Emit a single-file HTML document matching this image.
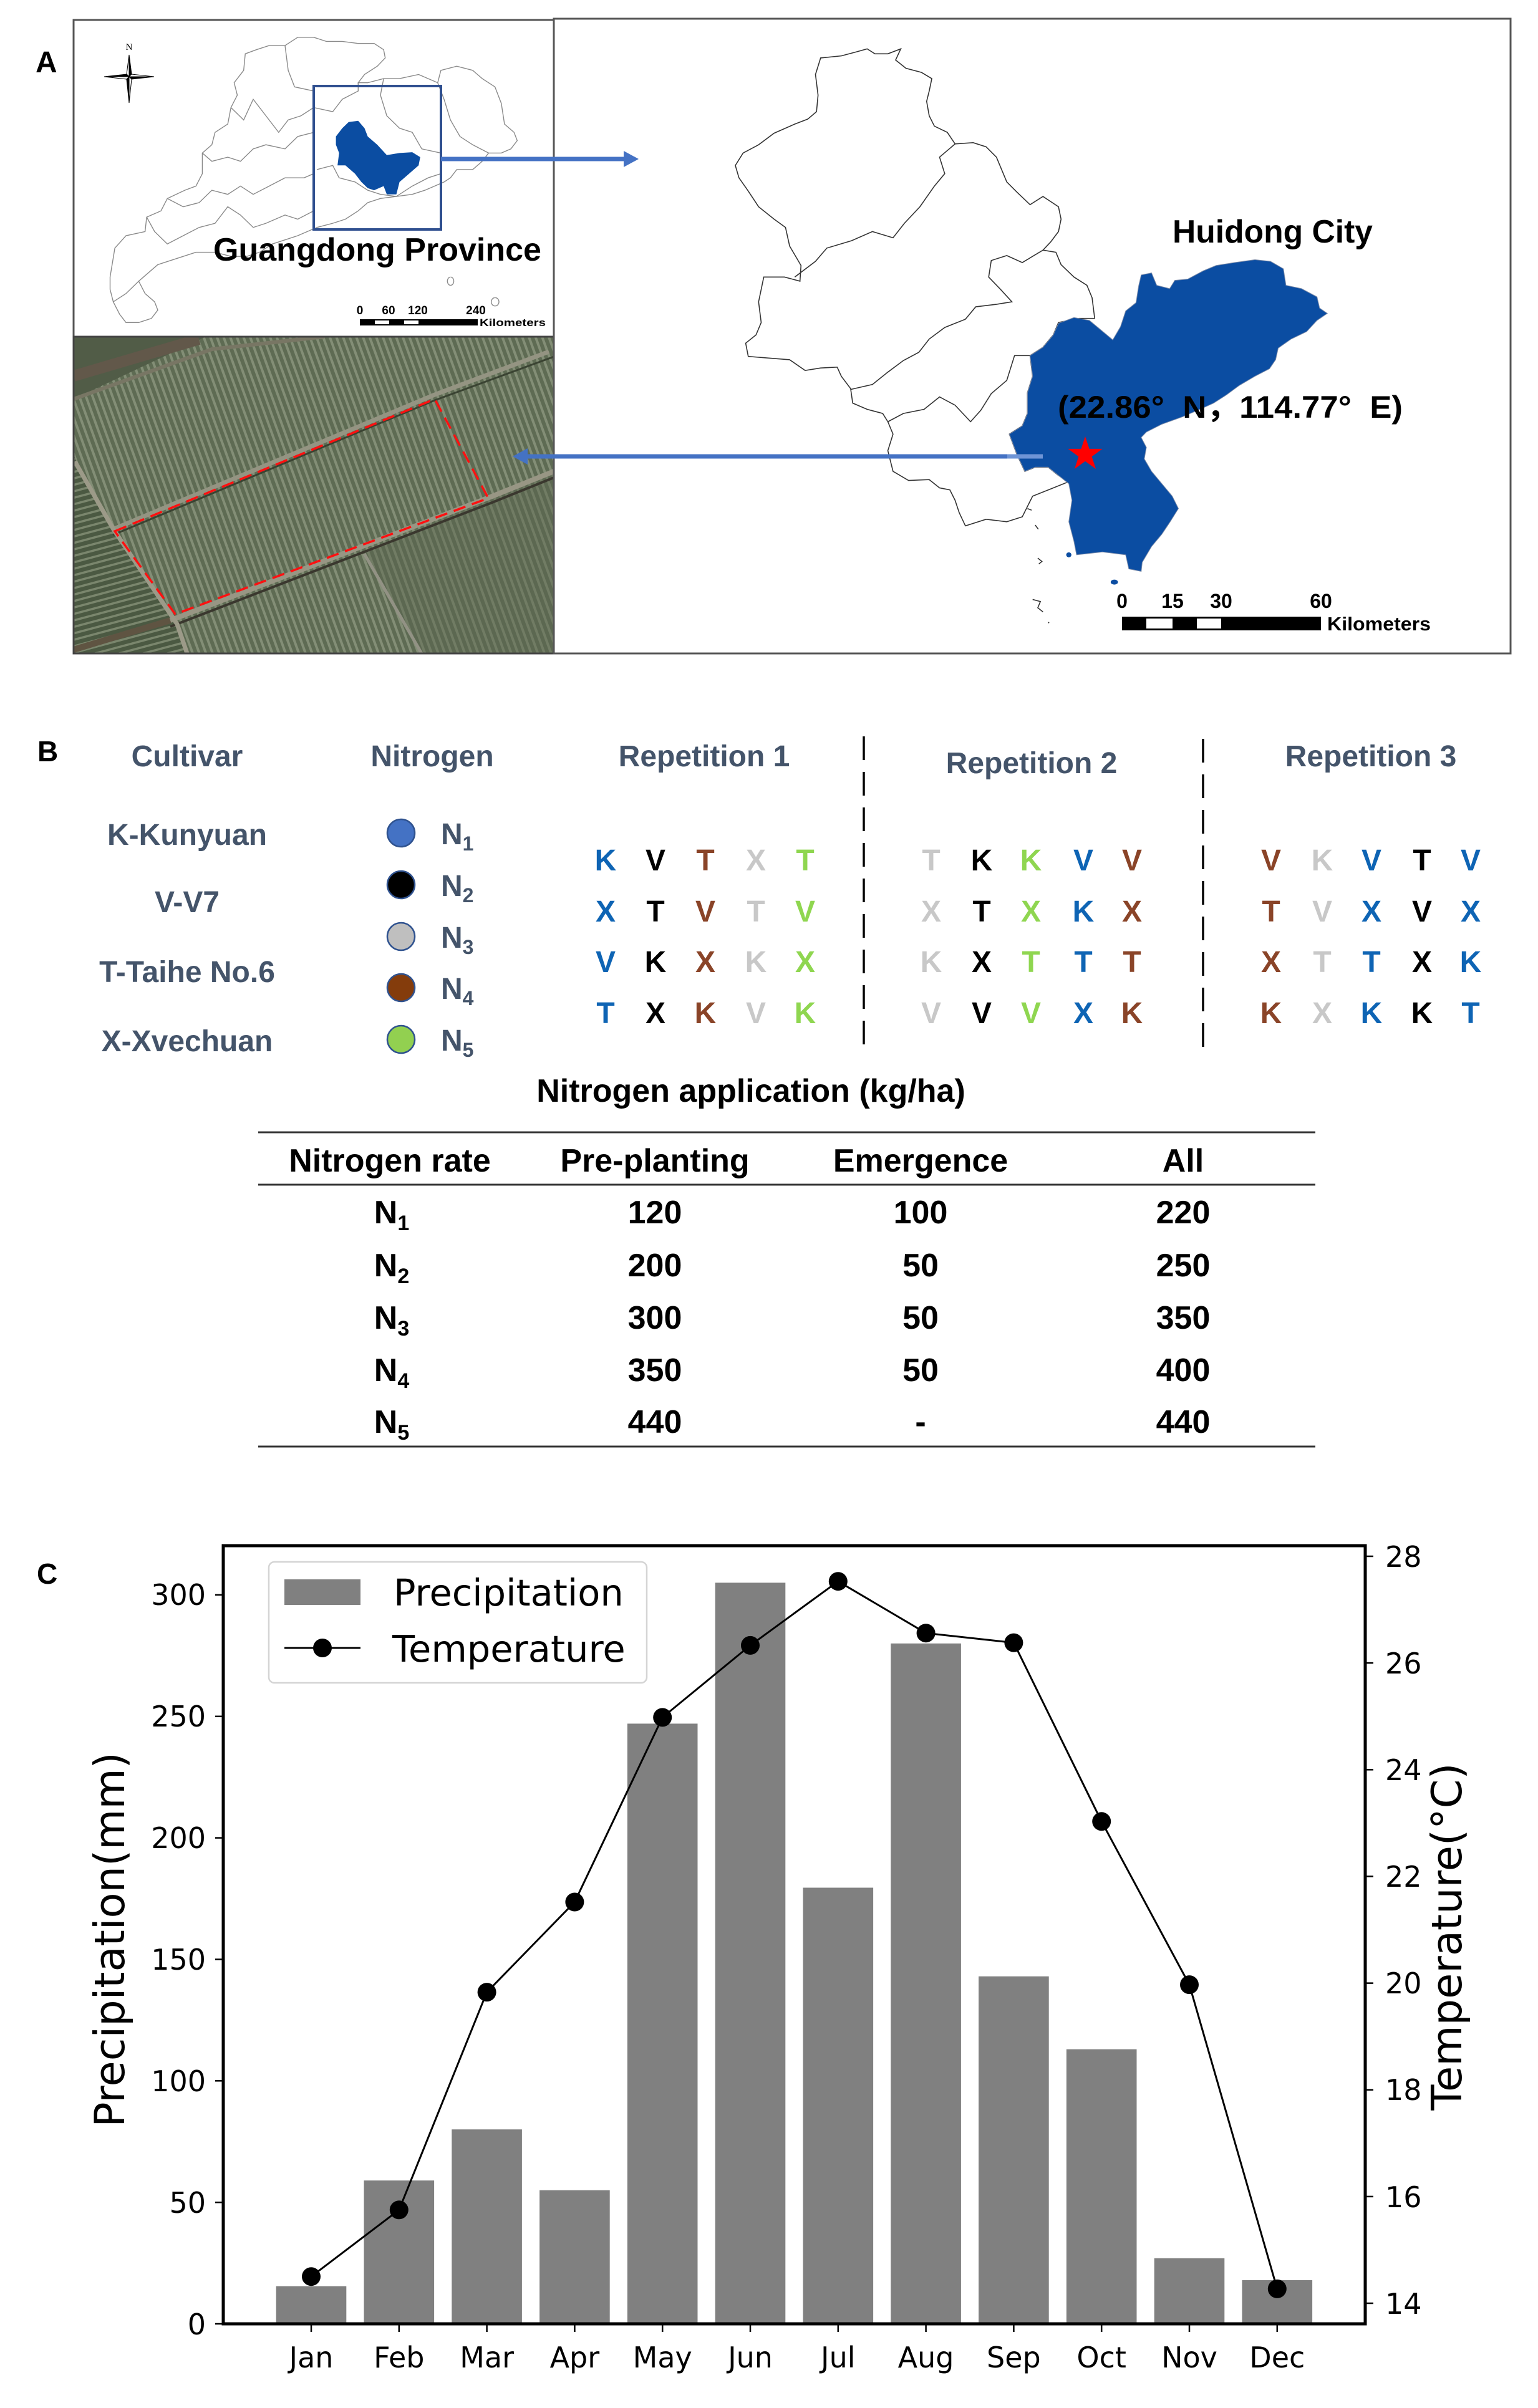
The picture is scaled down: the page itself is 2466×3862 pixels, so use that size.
<!DOCTYPE html>
<html><head><meta charset="utf-8"><style>
html,body{margin:0;padding:0;background:#fff;}
svg{display:block;}
.ab{font-family:"Liberation Sans","Noto Sans CJK SC",sans-serif;font-weight:bold;}
.dj{font-family:"DejaVu Sans","Liberation Sans",sans-serif;}
</style></head><body>
<svg width="2466" height="3862" viewBox="0 0 2466 3862" xmlns="http://www.w3.org/2000/svg">
<defs>
<pattern id="stripes" width="10" height="40" patternUnits="userSpaceOnUse" patternTransform="rotate(-20)">
<rect width="10" height="40" fill="#5e6b53"/>
<rect x="0" width="4" height="40" fill="#838e76"/>
</pattern>
<pattern id="stripes2" width="10" height="40" patternUnits="userSpaceOnUse" patternTransform="rotate(75)">
<rect width="10" height="40" fill="#4b5942"/>
<rect x="0" width="3.5" height="40" fill="#7a866d"/>
</pattern>
<clipPath id="satclip"><rect x="118" y="540" width="770" height="508"/></clipPath>
</defs>

<!-- ================= PANEL A ================= -->
<text class="ab" x="57" y="116" font-size="48">A</text>

<!-- Left top map box -->
<rect x="118" y="32" width="770" height="508" fill="#fff" stroke="#555" stroke-width="3"/>
<g transform="translate(100,20) scale(0.51,0.663)" fill="none" stroke="#8a8a8a" stroke-width="1.4">
<path vector-effect="non-scaling-stroke" d="M150,640 L165,570 L200,540 L260,530 L265,495 L310,480 L330,450 L385,430 L420,420 L440,390 L440,340 L470,320 L480,290 L520,270 L530,230 L550,200 L540,170 L570,140 L575,100 L610,90 L650,80 L700,80 L740,60 L790,60 L830,70 L880,70 L930,75 L980,75 L1010,90 L1015,110 L990,130 L950,150 L930,170 L960,170 L1010,160 L1060,160 L1120,150 L1150,160 L1180,170 L1190,140 L1240,130 L1290,140 L1320,160 L1360,180 L1380,220 L1390,270 L1420,290 L1430,310 L1410,330 L1380,340 L1340,340 L1320,360 L1290,380 L1240,380 L1220,400 L1200,410 L1170,420 L1140,430 L1100,440 L1050,445 L1000,450 L960,460 L930,480 L890,500 L850,510 L800,520 L770,530 L740,540 L700,550 L660,560 L620,580 L580,590 L530,590 L480,580 L420,580 L380,590 L340,600 L300,610 L270,630 L240,650 L260,680 L290,700 L300,720 L280,740 L240,750 L200,750 L180,730 L160,700 L150,670 Z"/>
<path vector-effect="non-scaling-stroke" d="M440,340 L470,360 L520,350 L560,360 L600,330 L640,320 L700,330 L740,300 L790,290"/>
<path vector-effect="non-scaling-stroke" d="M530,230 L570,260 L600,210 L640,250 L680,290 L710,260 L750,250 L790,230 L850,240 L880,210 L930,190 L930,170"/>
<path vector-effect="non-scaling-stroke" d="M330,450 L380,470 L430,460 L470,430 L520,440 L560,420 L600,440 L650,420 L700,400 L760,400 L790,390"/>
<path vector-effect="non-scaling-stroke" d="M265,495 L290,530 L330,560 L380,540 L430,520 L480,510 L520,470 L560,490 L600,520 L640,510 L700,490 L740,500 L790,480"/>
<path vector-effect="non-scaling-stroke" d="M700,80 L710,140 L730,180 L790,190"/>
<path vector-effect="non-scaling-stroke" d="M1010,160 L1000,200 L1020,250 L1060,280 L1100,290 L1130,330 L1190,340"/>
<path vector-effect="non-scaling-stroke" d="M1180,170 L1200,210 L1220,260 L1250,300 L1290,320 L1340,340"/>
<path vector-effect="non-scaling-stroke" d="M800,380 L850,370 L870,400 L920,410 L960,430 L1000,440 L1050,445 L1100,420 L1150,400 L1190,390"/>
<path vector-effect="non-scaling-stroke" d="M160,700 L200,680 L240,650"/>
<path vector-effect="non-scaling-stroke" d="M1220,640 a10,10 0 1,0 1,0 M1360,690 a12,10 0 1,0 1,0"/>
</g>
<g transform="translate(100,20) scale(0.51,0.663)">
<path fill="#0b4da2" d="M860,300 L880,280 L900,265 L930,262 L950,280 L960,300 L990,320 L1020,345 L1060,340 L1100,338 L1125,350 L1120,370 L1090,390 L1060,410 L1050,440 L1020,440 L1010,420 L980,430 L960,425 L940,410 L920,390 L890,370 L865,370 L870,340 L860,320 Z"/>
</g>
<rect x="503" y="138" width="204" height="230" fill="none" stroke="#2f4f8f" stroke-width="4"/>
<!-- compass -->
<g stroke="#000" stroke-width="1">
<polygon points="207,123 207,88 211,119" fill="#000"/>
<polygon points="207,123 207,88 203,119" fill="#fff"/>
<polygon points="207,123 247,123 211,119" fill="#fff"/>
<polygon points="207,123 247,123 211,127" fill="#000"/>
<polygon points="207,123 207,165 211,127" fill="#fff"/>
<polygon points="207,123 207,165 203,127" fill="#000"/>
<polygon points="207,123 167,123 203,127" fill="#fff"/>
<polygon points="207,123 167,123 203,119" fill="#000"/>
</g>
<text x="207" y="80" font-size="15" text-anchor="middle" font-family="Liberation Serif,serif">N</text>
<text class="ab" x="342" y="418" font-size="52" textLength="526" lengthAdjust="spacingAndGlyphs">Guangdong Province</text>
<!-- small scale bar -->
<g class="ab" font-size="19" text-anchor="middle">
<text x="577" y="504">0</text><text x="623" y="504">60</text><text x="670" y="504">120</text><text x="763" y="504">240</text>
</g>
<rect x="577" y="512" width="189" height="10" fill="#000"/>
<rect x="601" y="514" width="23" height="6" fill="#fff"/>
<rect x="648" y="514" width="23" height="6" fill="#fff"/>
<text class="ab" x="769" y="523" font-size="17" textLength="106" lengthAdjust="spacingAndGlyphs">Kilometers</text>

<!-- Satellite -->
<g clip-path="url(#satclip)">
<rect x="118" y="540" width="770" height="508" fill="url(#stripes)"/>
<polygon points="118,730 181,849 284,1001 300,1048 118,1048" fill="url(#stripes2)"/>
<polygon points="584,888 676,1048 888,1048 888,756 788,796" fill="#5a6750" opacity="0.45"/>
<polygon points="118,540 330,540 118,640" fill="#515c47"/>
<polyline points="118,603 319,544" stroke="#62584a" stroke-width="18" fill="none"/>
<polyline points="118,640 340,560 520,540" stroke="#787664" stroke-width="6" fill="none"/>
<polyline points="181,849 697,633 880,564" stroke="#949482" stroke-width="7" fill="none"/>
<polyline points="181,858 697,642 888,572" stroke="#3a4332" stroke-width="3" fill="none"/>
<polyline points="273,995 789,796 888,756" stroke="#989684" stroke-width="8" fill="none"/>
<polyline points="273,1005 789,806 888,766" stroke="#3a372e" stroke-width="4" fill="none"/>
<polyline points="120,740 182,849 284,1001 300,1048" stroke="#9c9a88" stroke-width="7" fill="none"/>
<polyline points="584,888 676,1048" stroke="#929284" stroke-width="5" fill="none"/>
<polyline points="118,1042 273,995" stroke="#5f5442" stroke-width="10" fill="none"/>
</g>
<rect x="118" y="540" width="770" height="508" fill="none" stroke="#444" stroke-width="3"/>
<polygon points="184,852 697,640 783,799 281,985" fill="none" stroke="#ff1010" stroke-width="3.5" stroke-dasharray="20,11"/>

<!-- Right map box -->
<rect x="888" y="30" width="1534" height="1018" fill="none" stroke="#555" stroke-width="3"/>
<g transform="translate(1150,20) scale(0.829,0.663)">
<path fill="#fff" stroke="#333" stroke-width="1.6" vector-effect="non-scaling-stroke" d="M200,110 L240,105 L270,95 L290,88 L305,100 L330,100 L355,88 L345,115 L365,135 L395,145 L415,160 L410,190 L405,215 L410,250 L420,275 L445,290 L460,318 L495,315 L520,325 L540,350 L550,380 L560,410 L580,435 L605,465 L630,445 L660,470 L665,500 L660,530 L645,555 L630,575 L655,580 L665,610 L690,640 L715,660 L725,690 L730,740 L700,740 L660,750 L650,780 L630,810 L605,830 L610,880 L600,920 L600,970 L590,1000 L565,1020 L580,1070 L595,1110 L615,1100 L640,1100 L660,1120 L680,1135 L650,1150 L610,1170 L600,1195 L590,1220 L560,1232 L520,1226 L480,1242 L468,1210 L460,1180 L450,1155 L430,1150 L410,1130 L370,1132 L340,1110 L330,1060 L340,1020 L330,990 L320,970 L290,960 L262,945 L258,910 L240,880 L232,858 L200,860 L170,866 L140,840 L100,836 L60,832 L55,800 L75,780 L85,750 L80,700 L90,640 L130,640 L160,650 L162,612 L140,565 L132,520 L110,500 L80,470 L60,432 L42,400 L35,370 L50,340 L80,320 L110,292 L150,270 L175,258 L192,240 L195,200 L190,150 Z"/>
<g fill="none" stroke="#333" stroke-width="1.6">
<path vector-effect="non-scaling-stroke" d="M150,640 L190,602 L212,570 L260,552 L300,530 L340,545 L362,510 L392,470 L420,420 L440,390 L430,350 L460,318"/>
<path vector-effect="non-scaling-stroke" d="M258,912 L300,900 L330,870 L360,842 L390,822 L410,790 L440,762 L480,742 L500,712 L540,706 L570,700 L548,670 L525,640 L530,600 L560,588 L590,605 L630,575"/>
<path vector-effect="non-scaling-stroke" d="M330,990 L360,970 L400,960 L430,930 L460,950 L490,990 L510,962 L530,922 L560,890 L575,830 L605,830"/>
<path vector-effect="non-scaling-stroke" d="M600,1200 l8,4 M615,1240 l6,10 M620,1320 l8,8 l-6,6 M610,1420 l15,5 l-5,15 l10,10 M640,1475 l2,2"/>
</g>
<path fill="#0b4da2" stroke="#7a8aa8" stroke-width="1" vector-effect="non-scaling-stroke" d="M820,635 L840,630 L850,660 L875,668 L885,648 L910,645 L940,625 L965,612 L1000,605 L1040,598 L1070,602 L1095,620 L1100,660 L1130,668 L1160,688 L1165,715 L1180,728 L1160,745 L1140,772 L1110,790 L1085,812 L1080,840 L1068,862 L1040,880 L1010,902 L985,925 L960,945 L930,962 L900,978 L860,996 L830,1015 L820,1028 L830,1052 L826,1080 L840,1110 L860,1140 L880,1170 L892,1200 L876,1232 L860,1262 L840,1292 L822,1330 L820,1352 L796,1346 L790,1312 L745,1305 L695,1312 L690,1280 L680,1232 L686,1180 L680,1140 L660,1120 L640,1100 L615,1100 L595,1110 L580,1070 L565,1020 L590,1000 L600,970 L600,920 L610,880 L605,830 L630,810 L650,780 L660,752 L690,738 L720,745 L742,768 L765,792 L780,760 L790,722 L810,702 L815,662 Z"/>
<ellipse cx="680" cy="1312" rx="5" ry="6" fill="#0b4da2"/>
<ellipse cx="768" cy="1378" rx="7" ry="6" fill="#0b4da2"/>
</g>
<text class="ab" x="1880" y="389" font-size="52" textLength="321" lengthAdjust="spacingAndGlyphs">Huidong City</text>
<text class="ab" x="1696" y="670" font-size="50" textLength="553" lengthAdjust="spacingAndGlyphs" style="white-space:pre">(22.86°  N，114.77°  E)</text>
<polygon fill="#ff0000" points="1740,700 1746.6,719.9 1767.6,719.9 1750.6,732.2 1757.1,752.1 1740,739.8 1722.9,752.1 1729.4,732.2 1712.4,719.9 1733.4,719.9"/>
<!-- big scale bar -->
<g class="ab" font-size="32" text-anchor="middle">
<text x="1799" y="975">0</text><text x="1880" y="975">15</text><text x="1958" y="975">30</text><text x="2118" y="975">60</text>
</g>
<rect x="1799" y="989" width="319" height="22" fill="#000"/>
<rect x="1838" y="992" width="42" height="16" fill="#fff"/>
<rect x="1919" y="992" width="39" height="16" fill="#fff"/>
<text class="ab" x="2128" y="1011" font-size="31" textLength="166" lengthAdjust="spacingAndGlyphs">Kilometers</text>

<!-- arrows -->
<line x1="707" y1="255" x2="1002" y2="255" stroke="#4472c4" stroke-width="7"/>
<polygon points="1024,255 1000,242 1000,268" fill="#4472c4"/>
<line x1="1672" y1="732" x2="842" y2="732" stroke="#4472c4" stroke-width="7"/>
<line x1="1615" y1="732" x2="1672" y2="732" stroke="#6f95d6" stroke-width="7"/>
<polygon points="822,732 846,719 846,745" fill="#4472c4"/>

<!-- ================= PANEL B ================= -->
<text class="ab" x="60" y="1221" font-size="46">B</text>
<g class="ab" font-size="48" fill="#44546a" text-anchor="middle">
<text x="300" y="1229">Cultivar</text>
<text x="693" y="1229">Nitrogen</text>
<text x="1129" y="1229">Repetition 1</text>
<text x="1654" y="1240">Repetition 2</text>
<text x="2198" y="1229">Repetition 3</text>
<text x="300" y="1355">K-Kunyuan</text>
<text x="300" y="1463">V-V7</text>
<text x="300" y="1575">T-Taihe No.6</text>
<text x="300" y="1686">X-Xvechuan</text>
</g>
<g stroke="#2f528f" stroke-width="2.5">
<circle cx="643" cy="1336" r="22" fill="#4472c4"/>
<circle cx="643" cy="1419" r="22" fill="#000"/>
<circle cx="643" cy="1502" r="22" fill="#bfbfbf"/>
<circle cx="643" cy="1584" r="22" fill="#843c0c"/>
<circle cx="643" cy="1667" r="22" fill="#92d050"/>
</g>
<g class="ab" font-size="48" fill="#44546a">
<text x="707" y="1354">N<tspan font-size="32" dy="10">1</tspan></text>
<text x="707" y="1437">N<tspan font-size="32" dy="10">2</tspan></text>
<text x="707" y="1520">N<tspan font-size="32" dy="10">3</tspan></text>
<text x="707" y="1602">N<tspan font-size="32" dy="10">4</tspan></text>
<text x="707" y="1685">N<tspan font-size="32" dy="10">5</tspan></text>
</g>
<!-- dashed separators -->
<line x1="1385" y1="1181" x2="1385" y2="1678" stroke="#000" stroke-width="3.5" stroke-dasharray="38,19"/>
<line x1="1929" y1="1185" x2="1929" y2="1682" stroke="#000" stroke-width="3.5" stroke-dasharray="38,19"/>
<!-- letter grid -->
<g class="ab" font-size="48" text-anchor="middle">
<text x="971" y="1396" fill="#0e64b4">K</text><text x="1051" y="1396" fill="#000">V</text><text x="1131" y="1396" fill="#8a4428">T</text><text x="1212" y="1396" fill="#c8c8c8">X</text><text x="1291" y="1396" fill="#8fd650">T</text>
<text x="971" y="1478" fill="#0e64b4">X</text><text x="1051" y="1478" fill="#000">T</text><text x="1131" y="1478" fill="#8a4428">V</text><text x="1212" y="1478" fill="#c8c8c8">T</text><text x="1291" y="1478" fill="#8fd650">V</text>
<text x="971" y="1559" fill="#0e64b4">V</text><text x="1051" y="1559" fill="#000">K</text><text x="1131" y="1559" fill="#8a4428">X</text><text x="1212" y="1559" fill="#c8c8c8">K</text><text x="1291" y="1559" fill="#8fd650">X</text>
<text x="971" y="1641" fill="#0e64b4">T</text><text x="1051" y="1641" fill="#000">X</text><text x="1131" y="1641" fill="#8a4428">K</text><text x="1212" y="1641" fill="#c8c8c8">V</text><text x="1291" y="1641" fill="#8fd650">K</text>
<text x="1493" y="1396" fill="#c8c8c8">T</text><text x="1574" y="1396" fill="#000">K</text><text x="1653" y="1396" fill="#8fd650">K</text><text x="1737" y="1396" fill="#0e64b4">V</text><text x="1815" y="1396" fill="#8a4428">V</text>
<text x="1493" y="1478" fill="#c8c8c8">X</text><text x="1574" y="1478" fill="#000">T</text><text x="1653" y="1478" fill="#8fd650">X</text><text x="1737" y="1478" fill="#0e64b4">K</text><text x="1815" y="1478" fill="#8a4428">X</text>
<text x="1493" y="1559" fill="#c8c8c8">K</text><text x="1574" y="1559" fill="#000">X</text><text x="1653" y="1559" fill="#8fd650">T</text><text x="1737" y="1559" fill="#0e64b4">T</text><text x="1815" y="1559" fill="#8a4428">T</text>
<text x="1493" y="1641" fill="#c8c8c8">V</text><text x="1574" y="1641" fill="#000">V</text><text x="1653" y="1641" fill="#8fd650">V</text><text x="1737" y="1641" fill="#0e64b4">X</text><text x="1815" y="1641" fill="#8a4428">K</text>
<text x="2038" y="1396" fill="#8a4428">V</text><text x="2120" y="1396" fill="#c8c8c8">K</text><text x="2199" y="1396" fill="#0e64b4">V</text><text x="2280" y="1396" fill="#000">T</text><text x="2358" y="1396" fill="#0e64b4">V</text>
<text x="2038" y="1478" fill="#8a4428">T</text><text x="2120" y="1478" fill="#c8c8c8">V</text><text x="2199" y="1478" fill="#0e64b4">X</text><text x="2280" y="1478" fill="#000">V</text><text x="2358" y="1478" fill="#0e64b4">X</text>
<text x="2038" y="1559" fill="#8a4428">X</text><text x="2120" y="1559" fill="#c8c8c8">T</text><text x="2199" y="1559" fill="#0e64b4">T</text><text x="2280" y="1559" fill="#000">X</text><text x="2358" y="1559" fill="#0e64b4">K</text>
<text x="2038" y="1641" fill="#8a4428">K</text><text x="2120" y="1641" fill="#c8c8c8">X</text><text x="2199" y="1641" fill="#0e64b4">K</text><text x="2280" y="1641" fill="#000">K</text><text x="2358" y="1641" fill="#0e64b4">T</text>
</g>

<!-- Table -->
<text class="ab" x="1204" y="1767" font-size="52" text-anchor="middle">Nitrogen application (kg/ha)</text>
<line x1="414" y1="1816" x2="2109" y2="1816" stroke="#333" stroke-width="3"/>
<line x1="414" y1="1900" x2="2109" y2="1900" stroke="#333" stroke-width="3"/>
<line x1="414" y1="2320" x2="2109" y2="2320" stroke="#333" stroke-width="3"/>
<g class="ab" font-size="52" text-anchor="middle" fill="#000">
<text x="625" y="1879">Nitrogen rate</text><text x="1050" y="1879">Pre-planting</text><text x="1476" y="1879">Emergence</text><text x="1897" y="1879">All</text>
<text x="628" y="1962">N<tspan font-size="34" dy="11">1</tspan></text><text x="1050" y="1962">120</text><text x="1476" y="1962">100</text><text x="1897" y="1962">220</text>
<text x="628" y="2047">N<tspan font-size="34" dy="11">2</tspan></text><text x="1050" y="2047">200</text><text x="1476" y="2047">50</text><text x="1897" y="2047">250</text>
<text x="628" y="2131">N<tspan font-size="34" dy="11">3</tspan></text><text x="1050" y="2131">300</text><text x="1476" y="2131">50</text><text x="1897" y="2131">350</text>
<text x="628" y="2215">N<tspan font-size="34" dy="11">4</tspan></text><text x="1050" y="2215">350</text><text x="1476" y="2215">50</text><text x="1897" y="2215">400</text>
<text x="628" y="2298">N<tspan font-size="34" dy="11">5</tspan></text><text x="1050" y="2298">440</text><text x="1476" y="2298">-</text><text x="1897" y="2298">440</text>
</g>

<!-- ================= PANEL C ================= -->
<text class="ab" x="59" y="2540" font-size="46">C</text>
<g fill="#808080">
<rect x="442.7" y="3666.6" width="112.6" height="60.4"/>
<rect x="583.5" y="3497.1" width="112.6" height="229.9"/>
<rect x="724.3" y="3415.2" width="112.6" height="311.8"/>
<rect x="865.1" y="3512.7" width="112.6" height="214.3"/>
<rect x="1005.9" y="2764.4" width="112.6" height="962.6"/>
<rect x="1146.7" y="2538.4" width="112.6" height="1188.6"/>
<rect x="1287.5" y="3027.5" width="112.6" height="699.5"/>
<rect x="1428.3" y="2635.8" width="112.6" height="1091.2"/>
<rect x="1569.1" y="3169.7" width="112.6" height="557.3"/>
<rect x="1709.9" y="3286.6" width="112.6" height="440.4"/>
<rect x="1850.7" y="3621.8" width="112.6" height="105.2"/>
<rect x="1991.5" y="3656.9" width="112.6" height="70.1"/>
</g>
<polyline fill="none" stroke="#000" stroke-width="3" points="499,3651.2 639.8,3544.3 780.6,3195.1 921.4,3050.5 1062.2,2754.4 1203,2638.9 1343.8,2536.2 1484.6,2619.2 1625.4,2634.6 1766.2,2921.3 1907,3183.1 2047.8,3670.9"/>
<g fill="#000">
<circle cx="499" cy="3651.2" r="15"/><circle cx="639.8" cy="3544.3" r="15"/><circle cx="780.6" cy="3195.1" r="15"/><circle cx="921.4" cy="3050.5" r="15"/><circle cx="1062.2" cy="2754.4" r="15"/><circle cx="1203" cy="2638.9" r="15"/><circle cx="1343.8" cy="2536.2" r="15"/><circle cx="1484.6" cy="2619.2" r="15"/><circle cx="1625.4" cy="2634.6" r="15"/><circle cx="1766.2" cy="2921.3" r="15"/><circle cx="1907" cy="3183.1" r="15"/><circle cx="2047.8" cy="3670.9" r="15"/>
</g>
<!-- legend -->
<rect x="431" y="2505" width="606" height="194" rx="9" fill="#fff" fill-opacity="0.85" stroke="#d4d4d4" stroke-width="2.5"/>
<rect x="456" y="2533" width="122" height="41" fill="#808080"/>
<line x1="456" y1="2643" x2="578" y2="2643" stroke="#000" stroke-width="3"/>
<circle cx="517" cy="2643" r="15" fill="#000"/>
<g class="dj" font-size="59" fill="#000">
<text x="631" y="2575">Precipitation</text>
<text x="629" y="2665">Temperature</text>
</g>
<!-- spines -->
<rect x="358" y="2479" width="1831" height="1248" fill="none" stroke="#000" stroke-width="5"/>
<g stroke="#000" stroke-width="2.5">
<line x1="345" y1="3727" x2="358" y2="3727"/><line x1="345" y1="3532.2" x2="358" y2="3532.2"/><line x1="345" y1="3337.3" x2="358" y2="3337.3"/><line x1="345" y1="3142.5" x2="358" y2="3142.5"/><line x1="345" y1="2947.6" x2="358" y2="2947.6"/><line x1="345" y1="2752.8" x2="358" y2="2752.8"/><line x1="345" y1="2557.9" x2="358" y2="2557.9"/>
<line x1="2189" y1="3694" x2="2202" y2="3694"/><line x1="2189" y1="3522.9" x2="2202" y2="3522.9"/><line x1="2189" y1="3351.7" x2="2202" y2="3351.7"/><line x1="2189" y1="3180.6" x2="2202" y2="3180.6"/><line x1="2189" y1="3009.4" x2="2202" y2="3009.4"/><line x1="2189" y1="2838.3" x2="2202" y2="2838.3"/><line x1="2189" y1="2667.1" x2="2202" y2="2667.1"/><line x1="2189" y1="2496" x2="2202" y2="2496"/>
<line x1="499" y1="3727" x2="499" y2="3740"/><line x1="639.8" y1="3727" x2="639.8" y2="3740"/><line x1="780.6" y1="3727" x2="780.6" y2="3740"/><line x1="921.4" y1="3727" x2="921.4" y2="3740"/><line x1="1062.2" y1="3727" x2="1062.2" y2="3740"/><line x1="1203" y1="3727" x2="1203" y2="3740"/><line x1="1343.8" y1="3727" x2="1343.8" y2="3740"/><line x1="1484.6" y1="3727" x2="1484.6" y2="3740"/><line x1="1625.4" y1="3727" x2="1625.4" y2="3740"/><line x1="1766.2" y1="3727" x2="1766.2" y2="3740"/><line x1="1907" y1="3727" x2="1907" y2="3740"/><line x1="2047.8" y1="3727" x2="2047.8" y2="3740"/>
</g>
<g class="dj" font-size="46" fill="#000" text-anchor="end">
<text x="330" y="3744">0</text><text x="330" y="3549">50</text><text x="330" y="3354">100</text><text x="330" y="3159">150</text><text x="330" y="2964">200</text><text x="330" y="2769">250</text><text x="330" y="2574">300</text>
</g>
<g class="dj" font-size="46" fill="#000">
<text x="2221" y="3711">14</text><text x="2221" y="3540">16</text><text x="2221" y="3368">18</text><text x="2221" y="3197">20</text><text x="2221" y="3026">22</text><text x="2221" y="2855">24</text><text x="2221" y="2684">26</text><text x="2221" y="2513">28</text>
</g>
<g class="dj" font-size="46" fill="#000" text-anchor="middle">
<text x="499" y="3797">Jan</text><text x="639.8" y="3797">Feb</text><text x="780.6" y="3797">Mar</text><text x="921.4" y="3797">Apr</text><text x="1062.2" y="3797">May</text><text x="1203" y="3797">Jun</text><text x="1343.8" y="3797">Jul</text><text x="1484.6" y="3797">Aug</text><text x="1625.4" y="3797">Sep</text><text x="1766.2" y="3797">Oct</text><text x="1907" y="3797">Nov</text><text x="2047.8" y="3797">Dec</text>
</g>
<text class="dj" font-size="67" text-anchor="middle" transform="translate(199,3111) rotate(-90)">Precipitation(mm)</text>
<text class="dj" font-size="67" text-anchor="middle" transform="translate(2343,3106) rotate(-90)">Temperature(°C)</text>
</svg>
</body></html>
